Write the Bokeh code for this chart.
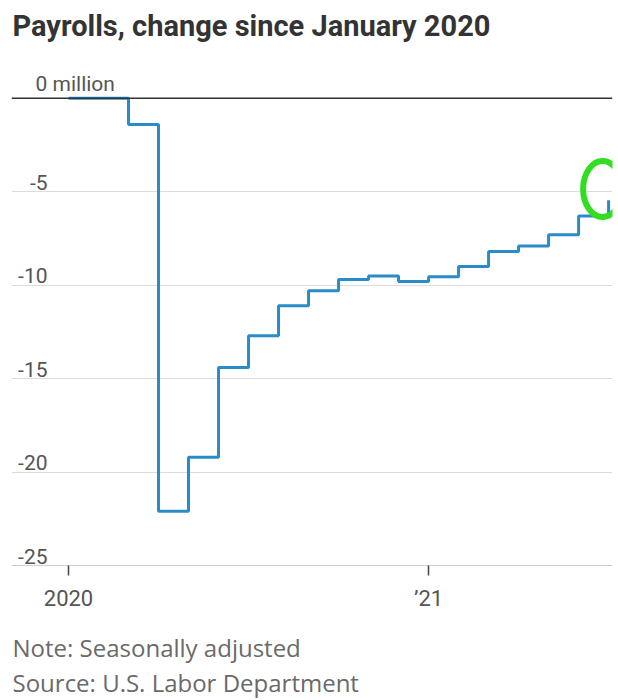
from bokeh.plotting import figure
from bokeh.models import Span, Label, FixedTicker, Range1d, Title
from bokeh.embed import file_html
from bokeh.resources import INLINE

# Data (millions, change since January 2020)
months = ["Jan 2020", "Feb 2020", "Mar 2020", "Apr 2020", "May 2020", "Jun 2020",
          "Jul 2020", "Aug 2020", "Sep 2020", "Oct 2020", "Nov 2020", "Dec 2020",
          "Jan 2021", "Feb 2021", "Mar 2021", "Apr 2021", "May 2021", "Jun 2021",
          "Jul 2021"]
month_index = list(range(len(months)))
payroll_change = [0.0, 0.0, -1.4, -22.1, -19.2, -14.4, -12.7, -11.1, -10.3, -9.7,
                  -9.5, -9.8, -9.55, -9.0, -8.2, -7.9, -7.3, -6.3, -5.45]

y_ticks = [-5, -10, -15, -20, -25]
y_tick_labels = ["-5", "-10", "-15", "-20", "-25"]
zero_label = "0 million"
x_ticks = [0, 12]
x_tick_labels = ["2020", "\u201921"]

title_text = "Payrolls, change since January 2020"
note_text = "Note: Seasonally adjusted"
source_text = "Source: U.S. Labor Department"

FONT = "Roboto"
NOTE_FONT = "Open Sans"
GRAY = "#555555"

p = figure(width=618, height=700, output_backend="svg", toolbar_location=None,
           x_range=Range1d(-1.9, 18.13), y_range=Range1d(-25, 2.99),
           y_axis_location=None,
           min_border_left=11, min_border_right=6, min_border_top=42,
           min_border_bottom=135, outline_line_color=None,
           background_fill_color="white", border_fill_color="white")

# grid
p.xgrid.grid_line_color = None
p.ygrid.ticker = FixedTicker(ticks=[-5, -10, -15, -20])
p.ygrid.grid_line_color = "#dcdcdc"
p.ygrid.grid_line_width = 1

# x axis
xa = p.xaxis[0]
xa.ticker = FixedTicker(ticks=x_ticks)
xa.major_label_overrides = {t: l for t, l in zip(x_ticks, x_tick_labels)}
xa.axis_line_color = "#d0d0d0"
xa.axis_line_width = 1
xa.major_tick_in = 0
xa.major_tick_out = 10
xa.major_tick_line_color = "#444444"
xa.major_tick_line_width = 1.5
xa.minor_tick_line_color = None
xa.major_label_standoff = 10
xa.major_label_text_font = FONT
xa.major_label_text_font_size = "22px"
xa.major_label_text_color = GRAY

# data line
p.step(month_index, payroll_change, mode="after", line_color="#2a8cc7", line_width=3)

# zero line
p.add_layout(Span(location=0, dimension="width", line_color="#333333", line_width=1.5,
                  level="overlay"))

# highlight circle around the latest value
p.ellipse(x=[month_index[-1] - 0.2], y=[payroll_change[-1] + 0.6], width=1.3, height=3.0,
          fill_color=None, line_color="#33dd22", line_width=6)

# y tick labels above gridlines
for v, t in zip(y_ticks, y_tick_labels):
    p.add_layout(Label(x=36, x_units="screen", y=v, y_units="data", text=t,
                       text_align="right", text_baseline="bottom", y_offset=2,
                       text_font=FONT, text_font_size="21px", text_color=GRAY))
p.add_layout(Label(x=24, x_units="screen", y=0, y_units="data", text=zero_label,
                   text_align="left", text_baseline="bottom", y_offset=2,
                   text_font=FONT, text_font_size="21px", text_color=GRAY))

# title
p.add_layout(Title(text=title_text, align="left", text_font=FONT, text_font_style="bold",
                   text_font_size="29px", text_color="#333333", offset=1,
                   standoff=0), "above")
# small gap between the x axis and the notes
p.add_layout(Title(text=" ", align="left", text_font=NOTE_FONT, text_font_size="1px",
                   standoff=12), "below")
p.add_layout(Title(text=note_text, align="left", text_font=NOTE_FONT, text_font_style="normal",
                   text_font_size="24px", text_color="#6a6a6a", offset=1,
                   standoff=0), "below")
p.add_layout(Title(text=source_text, align="left", text_font=NOTE_FONT, text_font_style="normal",
                   text_font_size="24px", text_color="#6a6a6a", offset=1,
                   standoff=0), "below")

open("out.html", "w").write(file_html(p, INLINE))
